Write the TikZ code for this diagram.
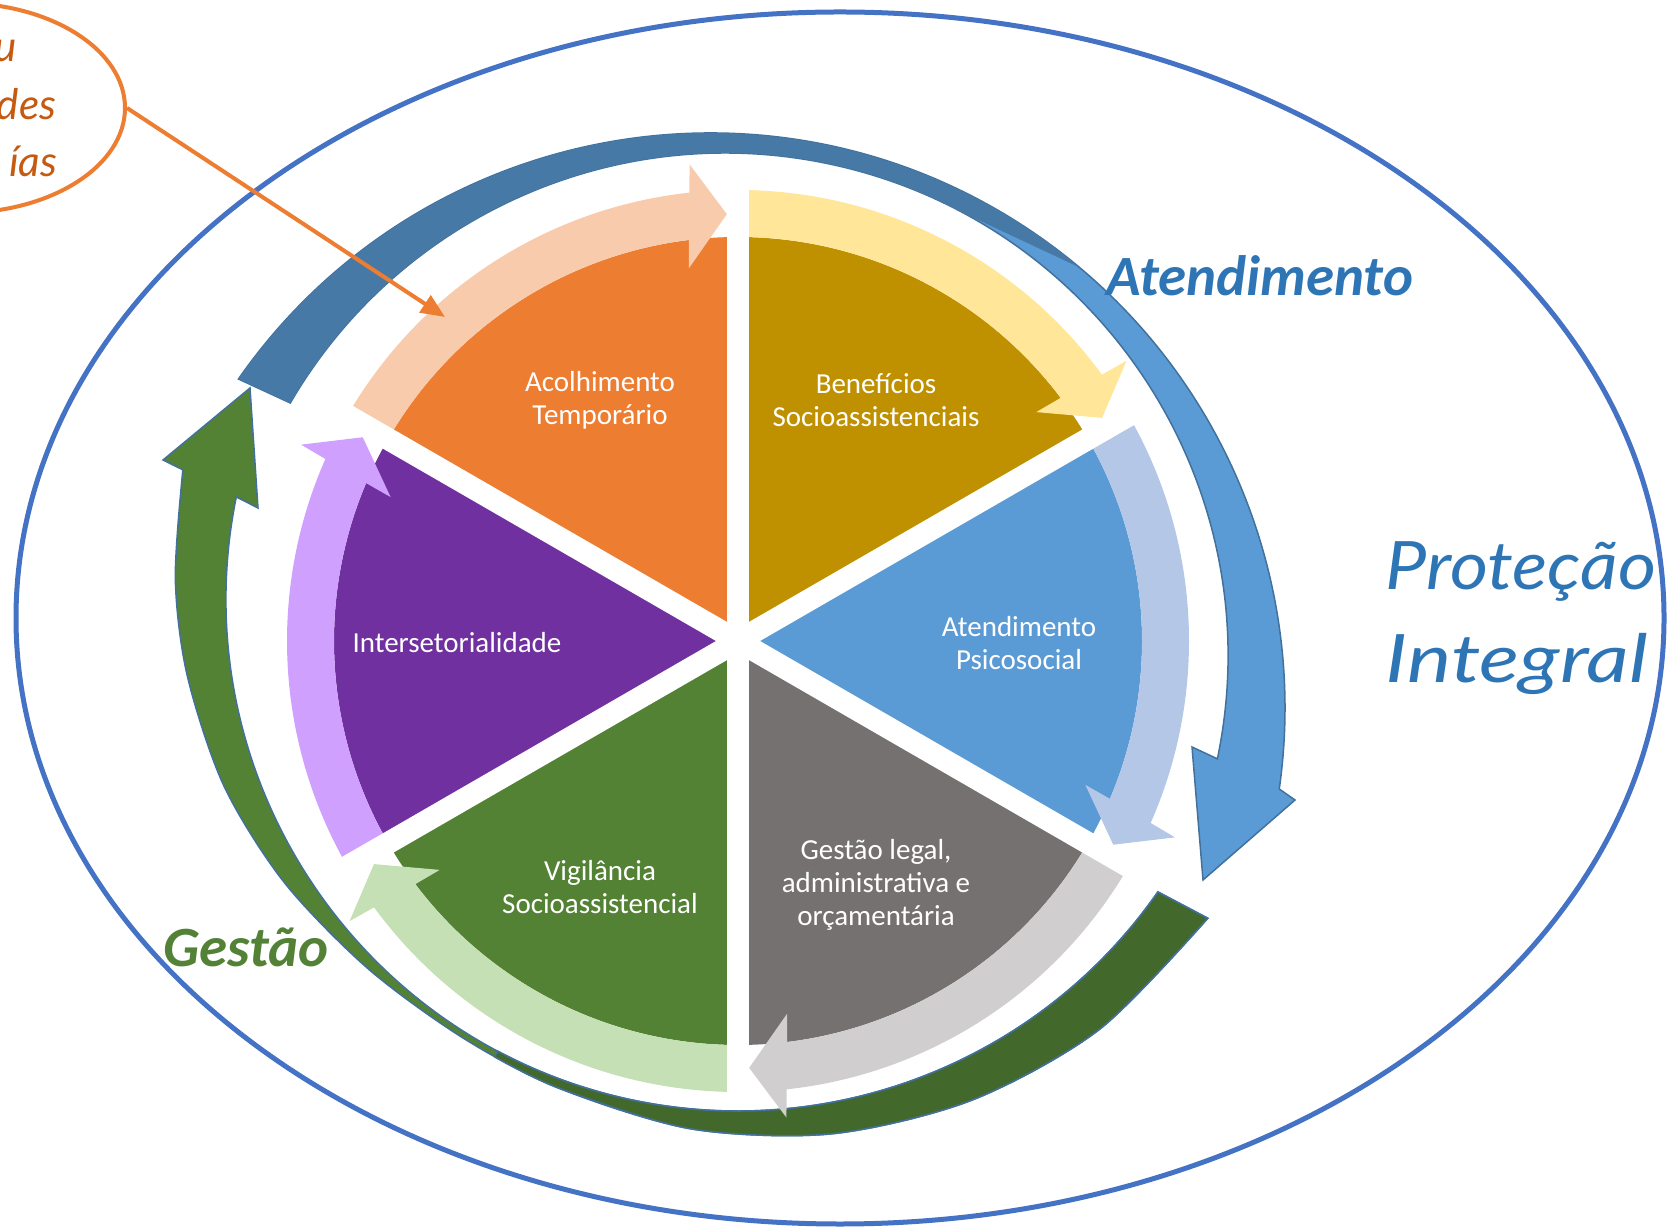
\documentclass[tikz,border=0pt]{standalone}
\usepackage{fontspec}
\newfontfamily\labelfont{Carlito}
\newfontfamily\handfont{Lato}
\usepackage{graphicx}
\usepackage{xcolor}
\definecolor{ColFrame}{RGB}{68,114,196}
\definecolor{ColNote}{RGB}{237,125,49}
\definecolor{ColNoteText}{RGB}{197,90,17}
\definecolor{ColBlue}{RGB}{46,117,182}
\definecolor{ColGreen}{RGB}{83,129,53}
\definecolor{AtLight}{RGB}{91,155,213}
\definecolor{AtDark}{RGB}{71,121,167}
\definecolor{AtLine}{RGB}{65,113,156}
\definecolor{GeLight}{RGB}{84,130,53}
\definecolor{GeDark}{RGB}{67,104,43}
\definecolor{Sec1}{RGB}{237,125,49}
\definecolor{Sec1b}{RGB}{248,203,173}
\definecolor{Sec2}{RGB}{191,144,0}
\definecolor{Sec2b}{RGB}{255,230,153}
\definecolor{Sec3}{RGB}{91,155,213}
\definecolor{Sec3b}{RGB}{180,199,231}
\definecolor{Sec4}{RGB}{118,113,113}
\definecolor{Sec4b}{RGB}{208,206,206}
\definecolor{Sec5}{RGB}{84,130,53}
\definecolor{Sec5b}{RGB}{197,224,180}
\definecolor{Sec6}{RGB}{112,48,160}
\definecolor{Sec6b}{RGB}{208,160,255}
\usepackage{tikz}
\usetikzlibrary{shapes.geometric}
\usetikzlibrary{arrows.meta}
\usetikzlibrary{calc}
\tikzstyle{Frame}=[draw=ColFrame,line width=.5mm]
\tikzstyle{Note}=[ellipse,draw=ColNote,line width=.4mm,minimum width=33mm,
minimum height=21mm,inner sep=0pt]
\tikzstyle{NoteText}=[text=ColNoteText,inner sep=0pt,anchor=base east,
font=\handfont\itshape\fontsize{12}{14}\selectfont]
\tikzstyle{Pointer}=[draw=ColNote,line width=.4mm,
-{Triangle[length=2.4mm,width=2mm]}]
\tikzstyle{Sector}=[text=white,align=center,inner sep=0pt,
font=\labelfont\fontsize{8.25}{9.4}\selectfont]
\tikzstyle{Title}=[inner sep=0pt,anchor=base west,
font=\labelfont\bfseries\itshape\fontsize{16.2}{19}\selectfont]
\tikzstyle{Hand}=[inner sep=0pt,anchor=base west,text=ColBlue,
font=\handfont\itshape\fontsize{19}{22}\selectfont]
\tikzstyle{Gap}=[draw=white,line width=2.2mm]
\tikzstyle{Rim}=[draw=AtLine,line width=.15mm]
\newcommand{\Wedge}[2]{%
  \fill[#2](0,0)--(#1:404)arc[start angle=#1,end angle=#1+60,radius=404]--cycle;}
\newcommand{\RingArrow}[2]{%
  \fill[#2](#1:451)arc[start angle=#1,end angle=#1+53.8,radius=451]
    --(#1+54.2:479)--(#1+58.5:427)--(#1+52.5:376)--(#1+53:404)
    arc[start angle=#1+53,end angle=#1,radius=404]--cycle;}

\begin{document}
\begin{tikzpicture}[x=.1mm,y=-.1mm]
            \useasboundingbox(0,0)rectangle(1668,1227);
            \draw[Frame](840,618)ellipse[x radius=824,y radius=606];
            % Atendimento
            \coordinate(Oa)at(710,708);
            \coordinate(Ia)at(725,656);
            \filldraw[Rim,fill=AtLight]
                ($(Oa)+(-145.1:575)$)arc[start angle=-145.1,end angle=8.1,radius=575]
                --(1295,800)--(1203,880)--(1192,747)--($(Ia)+(11.8:503)$)
                arc[start angle=11.8,end angle=-149.8,radius=503]--cycle;
            \fill[AtDark]($(Oa)+(-145.1:575)$)
                arc[start angle=-145.1,end angle=-50,radius=575]
                --($(Ia)+(-62:503)$)arc[start angle=-62,end angle=-149.8,radius=503]--cycle;
            % Gestao
            \begin{scope}[shift={(738,599)}]
            \filldraw[Rim,fill=GeLight]
                plot[smooth]coordinates{(34.2:568)(50:562)(65:553)(80:543)(95:532)
                (110:521)(122:518)(135:523)(148:535)(160:547)(172:556)(182:563)(193.1:570)}
                --(-575,-139)--(-488,-211)--(-480,-91)--(191.5:512)
                arc[start angle=191.5,end angle=34.9,radius=512]--cycle;
            \filldraw[Rim,fill=GeDark]
                plot[smooth]coordinates{(34.2:568)(50:562)(65:553)(80:543)(95:532)
                (110:521)(118:518.5)}
                --(118:512)arc[start angle=118,end angle=34.9,radius=512]--cycle;
            \end{scope}
            % roda
            \begin{scope}[shift={(738,641)}]
            \Wedge{-150}{Sec1}
            \Wedge{-90}{Sec2}
            \Wedge{-30}{Sec3}
            \Wedge{30}{Sec4}
            \Wedge{90}{Sec5}
            \Wedge{150}{Sec6}
            \RingArrow{-150}{Sec1b}
            \RingArrow{-90}{Sec2b}
            \RingArrow{-30}{Sec3b}
            \RingArrow{30}{Sec4b}
            \RingArrow{90}{Sec5b}
            \RingArrow{150}{Sec6b}
            \draw[Gap](0,0)--(-150:462);
            \draw[Gap](0,0)--(-90:462);
            \draw[Gap](0,0)--(-30:462);
            \draw[Gap](0,0)--(30:462);
            \draw[Gap](0,0)--(90:462);
            \draw[Gap](0,0)--(150:462);
            \end{scope}
            \node[Sector](acolh)at(600,400){Acolhimento\\Temporário};
            \node[Sector](benef)at(876,400){Benefícios\\Socioassistenciais};
            \node[Sector](psico)at(1019,643){Atendimento\\Psicosocial};
            \node[Sector](gestl)at(876,885)
                {Gestão legal,\\administrativa e\\orçamentária};
            \node[Sector](vigil)at(600,887){Vigilância\\Socioassistencial};
            \node[Sector](inter)at(457,643){Intersetorialidade};
            \node[Title,text=ColBlue](atend)at(1106,296){Atendimento};
            \node[Title,text=ColGreen](gestao)at(163,966){Gestão};
            \node[Hand](prot)at(1385,590){\scalebox{1.1}[1]{Proteção}};
            \node[Hand](integ)at(1385,683){\scalebox{1.25}[1]{Integral}};
            % nota
            \node[Note](nota)at(-40,108){};
            \node[NoteText](n1)at(18,62){u};
            \node[NoteText](n2)at(57,120){des};
            \node[NoteText](n3)at(58,177){ías};
            \coordinate(alvo)at(445,317);
            \draw[Pointer](nota.east)--(alvo);
        \end{tikzpicture}
\end{document}
